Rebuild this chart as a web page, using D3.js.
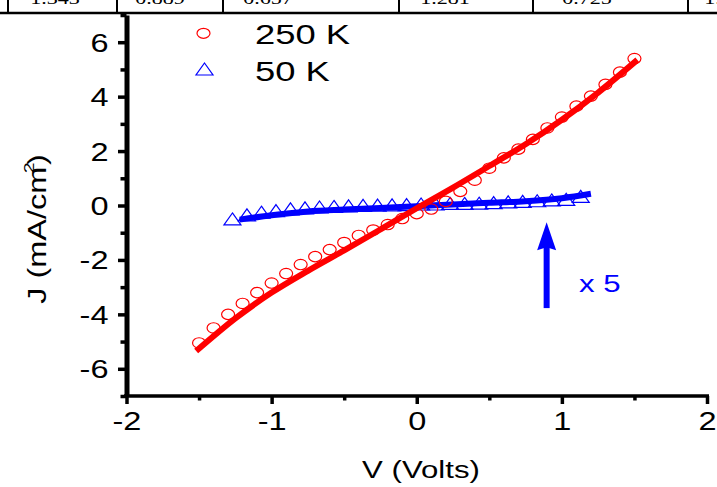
<!DOCTYPE html>
<html lang="en">
<head>
    <meta charset="UTF-8">
    <title>J-V curves 250 K / 50 K</title>
    <style>
        body { margin: 0; background: #fff; }
        svg { display: block; }
        .lbl { font-family: "Liberation Sans", Arial, sans-serif; fill: #000; }
        .tbl { font-family: "Liberation Serif", "Times New Roman", serif; font-size: 17px; fill: #000; }
    </style>
</head>
<body>
    <svg id="chart" width="717" height="487"></svg>

    <script src="https://d3js.org/d3.v7.min.js"></script>
    <script>
        // 250 K measured points (open circles)
        const v250 = [-1.5, -1.4, -1.3, -1.2, -1.1, -1.0, -0.9, -0.8, -0.7, -0.6, -0.5, -0.4, -0.3, -0.2, -0.1, 0.0,
                      0.1, 0.2, 0.3, 0.4, 0.5, 0.6, 0.7, 0.8, 0.9, 1.0, 1.1, 1.2, 1.3, 1.4, 1.5];
        const j250 = [-5.05, -4.5, -4.0, -3.6, -3.2, -2.85, -2.5, -2.17, -1.88, -1.62, -1.36, -1.1, -0.9, -0.7, -0.48, -0.3,
                      -0.13, 0.15, 0.52, 0.93, 1.37, 1.75, 2.07, 2.43, 2.85, 3.25, 3.65, 4.02, 4.45, 4.9, 5.4];

        // 250 K fit (thick red line)
        const fitV250 = [-1.52, -1.25, -1.0, -0.75, -0.5, -0.25, 0.0, 0.25, 0.5, 0.75, 1.0, 1.25, 1.52];
        const fitJ250 = [-5.35, -4.15, -3.2, -2.4, -1.65, -0.88, -0.1, 0.66, 1.45, 2.25, 3.15, 4.15, 5.35];

        // 50 K measured points (open triangles, x 5)
        const v50 = [-1.27, -1.17, -1.07, -0.97, -0.87, -0.77, -0.67, -0.57, -0.47, -0.37, -0.27, -0.17, -0.07,
                     0.03, 0.13, 0.23, 0.33, 0.43, 0.53, 0.63, 0.73, 0.83, 0.93, 1.03, 1.13];
        const j50 = [-0.55, -0.4, -0.3, -0.24, -0.18, -0.14, -0.11, -0.09, -0.07, -0.05, -0.04, -0.03, -0.02,
                     0.0, 0.0, 0.02, 0.02, 0.03, 0.05, 0.08, 0.1, 0.12, 0.15, 0.17, 0.28];

        // 50 K fit (thick blue line)
        const fitV50 = [-1.22, -1.0, -0.75, -0.5, -0.25, 0.0, 0.25, 0.5, 0.75, 1.0, 1.2];
        const fitJ50 = [-0.52, -0.36, -0.22, -0.15, -0.09, -0.03, 0.04, 0.1, 0.16, 0.27, 0.43];

        // ticks
        const xMajor = [-2, -1, 0, 1, 2];
        const xMinor = [-1.5, -0.5, 0.5, 1.5];
        const yMajor = [-6, -4, -2, 0, 2, 4, 6];
        const yMinor = [-7, -5, -3, -1, 1, 3, 5, 7];

        // annotation: arrow and "x 5"
        const arrowV = 0.895, arrowFrom = -3.77, arrowTo = -0.62;

        // leftover row of a table above the figure
        const tableCells = ["1.343", "0.889", "0.657", "1.281", "0.725", "1.0"];
        const tableCenters = [55, 160, 268, 445, 587, 718];
        const tableLines = [8, 117, 223, 399, 533, 688];

        const TX = 1.3; // text in the picture is wider than the font
        const svg = d3.select("#chart");

        const x = d3.scaleLinear().domain([-2, 2]).range([126.5, 707]);
        const y = d3.scaleLinear().domain([-7, 7]).range([396, 15]);

        // table fragment
        svg.selectAll(".tcell").data(tableCells).enter().append("text")
            .attr("class", "tbl")
            .attr("text-anchor", "middle")
            .attr("transform", (d, i) => `translate(${tableCenters[i]},3.5) scale(${TX},1)`)
            .text(d => d);
        svg.selectAll(".tline").data(tableLines).enter().append("line")
            .attr("x1", d => d).attr("x2", d => d)
            .attr("y1", 0).attr("y2", 13)
            .attr("stroke", "#000").attr("stroke-width", 2);
        svg.append("line")
            .attr("x1", 0).attr("x2", 717).attr("y1", 13).attr("y2", 13)
            .attr("stroke", "#000").attr("stroke-width", 2.5);

        // axes
        const yAxis = svg.append("g").attr("transform", `translate(${x(-2)},0)`)
            .call(d3.axisLeft(y).tickValues(yMajor).tickSize(8.5).tickSizeOuter(0).tickFormat(d => d));
        svg.append("g").attr("transform", `translate(${x(-2)},0)`)
            .call(d3.axisLeft(y).tickValues(yMinor).tickSize(6).tickSizeOuter(0).tickFormat(""))
            .call(g => g.select(".domain").remove());

        const xAxis = svg.append("g").attr("transform", `translate(0,${y(-7)})`)
            .call(d3.axisBottom(x).tickValues(xMajor).tickSize(8).tickSizeOuter(0).tickFormat(d => d));
        svg.append("g").attr("transform", `translate(0,${y(-7)})`)
            .call(d3.axisBottom(x).tickValues(xMinor).tickSize(4.5).tickSizeOuter(0).tickFormat(""))
            .call(g => g.select(".domain").remove());

        svg.selectAll(".tick line").attr("stroke", "#000").attr("stroke-width", 3.5);
        yAxis.select(".domain").attr("stroke", "#000").attr("stroke-width", 5);
        xAxis.select(".domain").attr("stroke", "#000").attr("stroke-width", 3.5)
            .attr("d", `M${x(-2) - 2.5},0H${x(2) + 2}`);

        yAxis.selectAll(".tick text")
            .attr("class", "lbl").attr("x", null).attr("dy", null)
            .attr("font-size", 25).attr("font-family", null)
            .attr("transform", `translate(-18,9) scale(${TX},1)`)
            .text(d => d < 0 ? "-" + Math.abs(d) : d);
        xAxis.selectAll(".tick text")
            .attr("class", "lbl").attr("y", null).attr("dy", null)
            .attr("font-size", 25).attr("font-family", null)
            .attr("transform", `translate(0,34) scale(${TX},1)`)
            .text(d => d < 0 ? "-" + Math.abs(d) : d);

        // axis titles
        svg.append("text").attr("class", "lbl")
            .attr("font-size", 24).attr("text-anchor", "middle")
            .attr("transform", `translate(421,478) scale(${TX},1)`)
            .text("V (Volts)");

        const yt = svg.append("text").attr("class", "lbl")
            .attr("font-size", 25).attr("text-anchor", "middle")
            .attr("transform", `translate(46,229) rotate(-90) scale(${TX},1)`);
        yt.append("tspan").text("J (mA/cm");
        yt.append("tspan").attr("font-size", 15).attr("dx", -5).attr("dy", -12).text("2");
        yt.append("tspan").attr("dx", -2).attr("dy", 12).text(")");

        // 50 K triangles and fit
        const tri = "M0,-7.5L8.5,4.5L-8.5,4.5Z";
        svg.append("g").selectAll("path").data(v50).enter().append("path")
            .attr("d", tri)
            .attr("transform", (d, i) => `translate(${x(d)},${y(j50[i])})`)
            .attr("fill", "none").attr("stroke", "#0000ff").attr("stroke-width", 1.2);

        const line = d3.line().x(d => x(d[0])).y(d => y(d[1])).curve(d3.curveCatmullRom);
        svg.append("path")
            .attr("d", line(fitV50.map((v, i) => [v, fitJ50[i]])))
            .attr("fill", "none").attr("stroke", "#0000ff").attr("stroke-width", 6);

        // 250 K circles and fit
        svg.append("g").selectAll("ellipse").data(v250).enter().append("ellipse")
            .attr("cx", d => x(d)).attr("cy", (d, i) => y(j250[i]))
            .attr("rx", 6.5).attr("ry", 5.2)
            .attr("fill", "none").attr("stroke", "#ff0000").attr("stroke-width", 1.2);

        svg.append("path")
            .attr("d", line(fitV250.map((v, i) => [v, fitJ250[i]])))
            .attr("fill", "none").attr("stroke", "#ff0000").attr("stroke-width", 6);

        // legend
        svg.append("ellipse").attr("cx", 203.5).attr("cy", 33.3).attr("rx", 6.5).attr("ry", 5)
            .attr("fill", "none").attr("stroke", "#ff0000").attr("stroke-width", 1.2);
        svg.append("path").attr("d", tri).attr("transform", "translate(204.5,70.5)")
            .attr("fill", "none").attr("stroke", "#0000ff").attr("stroke-width", 1.2);
        svg.append("text").attr("class", "lbl").attr("font-size", 28)
            .attr("transform", `translate(255,44) scale(${TX},1)`).text("250 K");
        svg.append("text").attr("class", "lbl").attr("font-size", 28)
            .attr("transform", `translate(255,81) scale(${TX},1)`).text("50 K");

        // arrow with "x 5"
        const ax = x(arrowV), ay1 = y(arrowFrom), ay2 = y(arrowTo);
        svg.append("line")
            .attr("x1", ax).attr("x2", ax).attr("y1", ay1).attr("y2", ay2 + 24)
            .attr("stroke", "#0000ff").attr("stroke-width", 6);
        svg.append("path")
            .attr("d", `M${ax},${ay2}L${ax + 9.5},${ay2 + 28}L${ax},${ay2 + 25}L${ax - 9.5},${ay2 + 28}Z`)
            .attr("fill", "#0000ff");
        svg.append("text").attr("class", "lbl").attr("font-size", 24)
            .style("fill", "#0000ff")
            .attr("transform", `translate(579,292) scale(${TX},1)`).text("x 5");
    </script>
</body>
</html>
